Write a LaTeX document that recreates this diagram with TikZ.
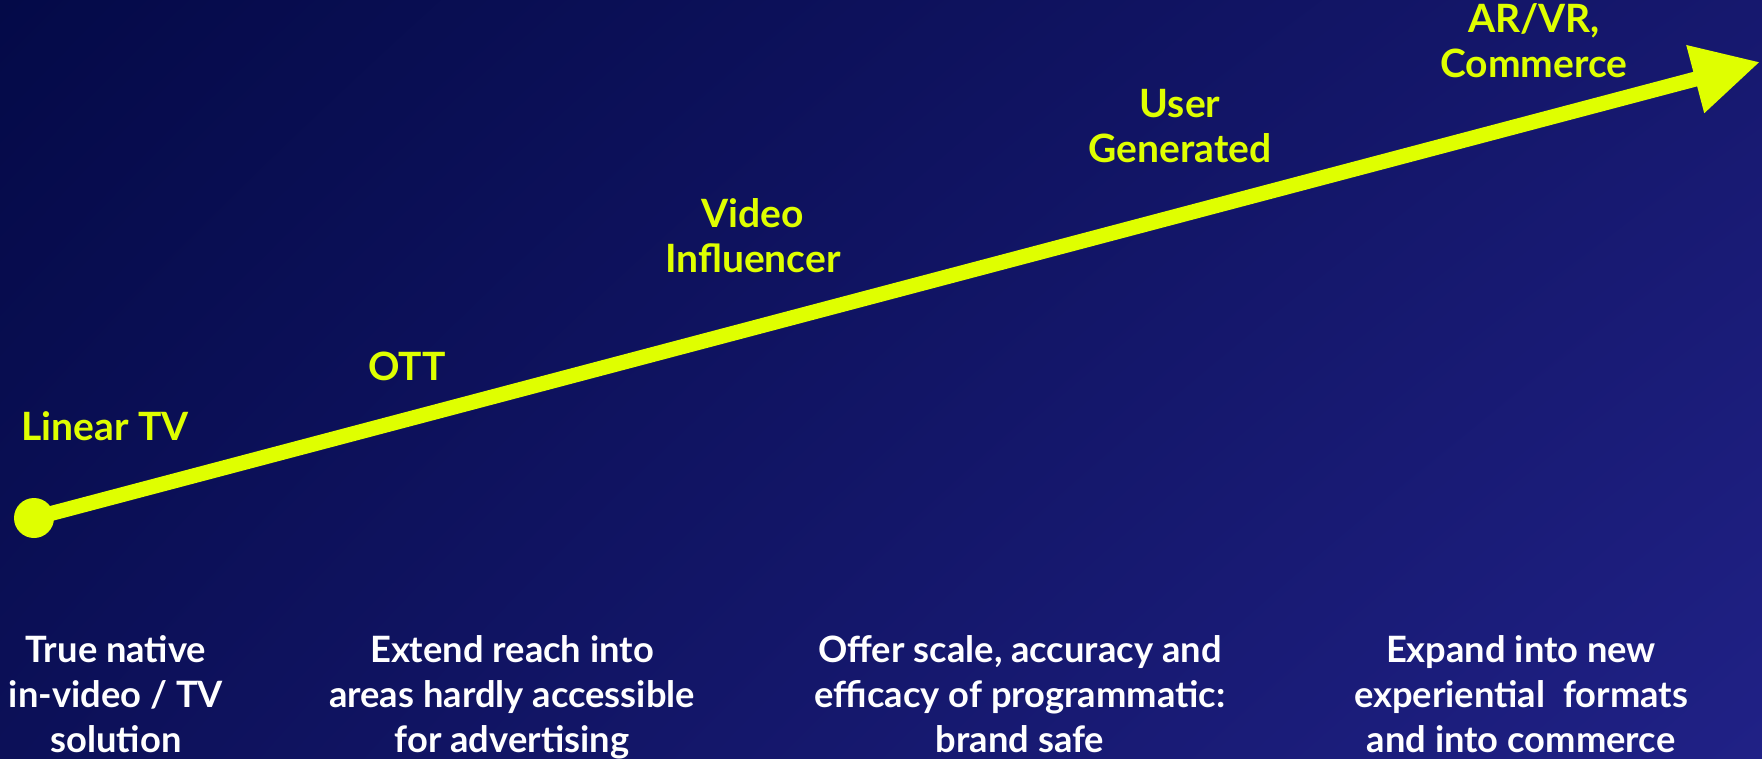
\documentclass[tikz,border=0pt]{standalone}
\usepackage{fontspec}
\setmainfont{Lato}
\usetikzlibrary{arrows.meta, shadings}
\definecolor{arrowyellow}{HTML}{DFFF00}
\definecolor{bgtl}{HTML}{040A48}
\definecolor{bgtr}{HTML}{16186E}
\definecolor{bgbl}{HTML}{0C1058}
\definecolor{bgbr}{HTML}{202186}
\tikzset{
	stage/.style={font=\bfseries\fontsize{39}{45}\selectfont, text=arrowyellow, align=center, anchor=base, inner sep=0pt},
	aim/.style={font=\bfseries\fontsize{36.3}{45}\selectfont, text=white, align=center, anchor=base, inner sep=0pt},
}
\begin{document}
\begin{tikzpicture}[x=1pt, y=-1pt, line join=round, >={Triangle[length=67pt,width=66pt]}]
	\useasboundingbox (0,0) rectangle (1762,759);
	\shade[upper left=bgtl, upper right=bgtr, lower left=bgbl, lower right=bgbr] (0,0) rectangle (1762,759);
	% timeline
	\node[circle, fill=arrowyellow, minimum size=40pt, inner sep=0pt] (start) at (34,518) {};
	\coordinate (tip) at (1760,62);
	\draw[->, arrowyellow, line width=15pt] (start.center) -- (tip);
	% stages (base = last line)
	\node[stage] (linear) at (105,440) {Linear TV};
	\node[stage] (ott) at (407,380) {OTT};
	\node[stage] (video) at (753,273) {Video\\Influencer};
	\node[stage] (user) at (1180,163) {User\\Generated};
	\node[stage] (arvr) at (1534,78) {AR/VR,\\Commerce};
	% aims
	\node[aim] (native) at (116,752) {True native\\in-video / TV\\solution};
	\node[aim] (reach) at (512,752) {Extend reach into\\areas hardly accessible\\for advertising};
	\node[aim] (scale) at (1020,752) {Offer scale, accuracy and\\efficacy of programmatic:\\brand safe};
	\node[aim] (expand) at (1521,752) {Expand into new\\experiential\ \ formats\\and into commerce};
\end{tikzpicture}
\end{document}
